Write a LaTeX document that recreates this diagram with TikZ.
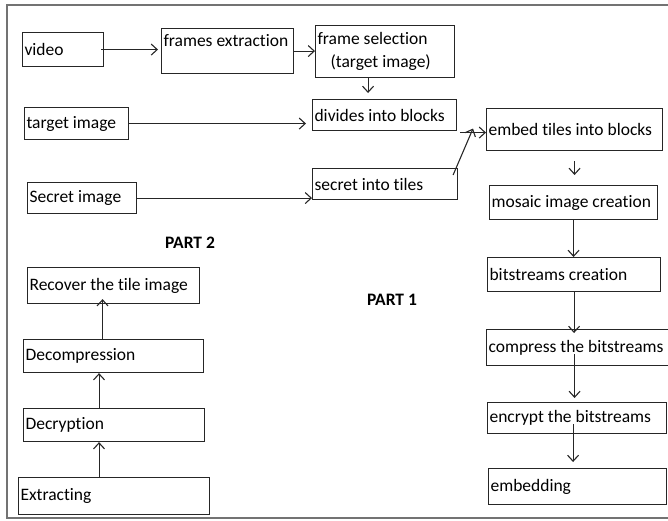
\documentclass[tikz,border=0pt]{standalone}
\usepackage{fontspec}
\setmainfont{Carlito}[RawFeature={-liga;-calt}]
\usetikzlibrary{arrows.meta}

\begin{document}
\begin{tikzpicture}[x=1pt, y=-1pt, font=\fontsize{17.5}{23}\selectfont,
		box/.style={draw=black!85, line width=1.1pt, anchor=north west, inner xsep=2pt, inner ysep=2pt, align=left,
			execute at begin node={\spaceskip=0pt\xspaceskip=0pt\relax}},
		flow/.style={->, line width=1.1pt, draw=black!85},
		>={Straight Barb[length=6pt, width=11pt]}]
		
		\useasboundingbox (0,0) rectangle (668,520);
		\draw[black!55, line width=1.6pt] (7,5) rectangle (700,518);
		
		% part 1
		\node[box, text width=77pt,  minimum height=34pt] (video)     at (22,32)   {video};
		\node[box, text width=128pt, minimum height=45pt, text height=15pt, text depth=24pt] (frames) at (161,28) {frames extraction};
		\node[box, text width=135pt, minimum height=52pt] (selection) at (315,25)  {frame selection\\\hspace*{13pt}(target image)};
		\node[box, text width=100pt, minimum height=32pt] (target)    at (24,107)  {target image};
		\node[box, text width=140pt, minimum height=31pt] (divides)   at (312,99)  {divides into blocks};
		\node[box, text width=105pt, minimum height=31pt] (secret)    at (27,182)  {Secret image};
		\node[box, text width=141pt, minimum height=31pt] (tiles)     at (312,168) {secret into tiles};
		\node[box, text width=172pt, minimum height=42pt] (embed)     at (486,108) {embed tiles into blocks};
		\node[box, text width=164pt, minimum height=34pt] (mosaic)    at (489,185) {mosaic image creation};
		\node[box, text width=169pt, minimum height=34pt] (bits)      at (487,257) {bitstreams creation};
		\node[box, text width=178pt, minimum height=36pt] (compress)  at (486,329) {compress the bitstreams};
		\node[box, text width=175pt, minimum height=31pt] (encrypt)   at (487,402) {encrypt the bitstreams};
		\node[box, text width=174pt, minimum height=36pt] (embedding) at (488,468) {embedding};
		
		% part 2
		\node[box, text width=168pt, minimum height=36pt] (recover)   at (27,267)  {Recover the tile image};
		\node[box, text width=176pt, minimum height=33pt] (decomp)    at (23,339)  {Decompression};
		\node[box, text width=177pt, minimum height=33pt] (decrypt)   at (23,408)  {Decryption};
		\node[box, text width=187pt, minimum height=37pt] (extract)   at (18,477)  {Extracting};
		
		\node[font=\fontsize{17.5}{23}\selectfont\bfseries] (part2) at (190,243) {PART 2};
		\node[font=\fontsize{17.5}{23}\selectfont\bfseries] (part1) at (392,300) {PART 1};
		
		
		\draw[flow] ([xshift=-3pt]video.east) -- ([xshift=-3pt]video.east -| frames.west);
		\draw[flow] (frames.east) -- (frames.east -| selection.west);
		\draw[flow] ([xshift=-17pt]selection.south) -- ([xshift=-17pt, yshift=6pt]selection.south |- divides.north);
		\draw[flow] (target.east) -- ([xshift=-6pt]target.east -| divides.west);
		\draw[flow] (secret.east) -- (secret.east -| tiles.west);
		\draw[flow] ([xshift=3pt, yshift=-3pt]divides.east |- embed.west) -- ([yshift=-3pt]embed.west);
		\draw[flow] ([xshift=-5pt, yshift=-7pt]tiles.north east) -- ([xshift=-13pt, yshift=1pt]embed.west);
		\draw[flow, shorten <=10pt, shorten >=10pt] (embed.south) -- (embed.south |- mosaic.north);
		\draw[flow] (mosaic.south) -- (mosaic.south |- bits.north);
		\draw[flow, shorten >=-4pt] (bits.south) -- (bits.south |- compress.north);
		\draw[flow, shorten >=4pt] ([xshift=-3pt, yshift=12pt]compress.south) -- ([xshift=-3pt]compress.south |- encrypt.north);
		\draw[flow, shorten >=6pt] ([xshift=-4pt, yshift=10pt]encrypt.south) -- ([xshift=-4pt]encrypt.south |- embedding.north);
		
		\draw[flow] ([xshift=-15pt]extract.north) -- ([xshift=-15pt]extract.north |- decrypt.south);
		\draw[flow] ([xshift=-15pt]decrypt.north) -- ([xshift=-15pt]decrypt.north |- decomp.south);
		\draw[flow, shorten >=-5pt] ([xshift=-11pt]decomp.north) -- ([xshift=-11pt]decomp.north |- recover.south);
	\end{tikzpicture}
\end{document}
